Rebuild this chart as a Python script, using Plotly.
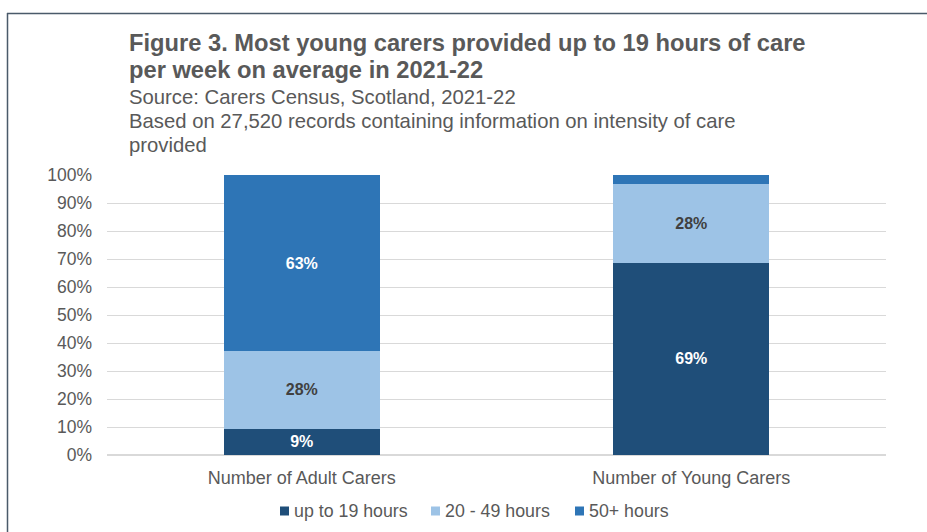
import plotly.graph_objects as go

categories = ["Number of Adult Carers", "Number of Young Carers"]
series_names = ["up to 19 hours", "20 - 49 hours", "50+ hours"]
up_to_19 = [9.4, 68.7]
h20_49 = [27.7, 28.0]
h50_plus = [62.9, 3.3]
labels_up_to_19 = ["9%", "69%"]
labels_20_49 = ["28%", "28%"]
labels_50_plus = ["63%", ""]
y_ticks = [0, 10, 20, 30, 40, 50, 60, 70, 80, 90, 100]
y_tick_labels = ["0%", "10%", "20%", "30%", "40%", "50%", "60%", "70%", "80%", "90%", "100%"]

colors = ["#1F4E79", "#9DC3E6", "#2E75B6"]
text_colors = ["white", "#404040", "white"]

W, H = 927, 532
ML, MR, MT, MB = 107, 41, 175, 77
PW, PH = W - ML - MR, H - MT - MB
FONT = "Liberation Sans, Arial, sans-serif"

def px2x(px):
    return (px - ML) / PW

def py2y(py):
    return (H - MB - py) / PH

fig = go.Figure()
for name, vals, labs, c, tc in zip(series_names, [up_to_19, h20_49, h50_plus],
                                   [labels_up_to_19, labels_20_49, labels_50_plus],
                                   colors, text_colors):
    fig.add_trace(go.Bar(
        x=categories, y=vals, name=name, marker=dict(color=c, line=dict(width=0)),
        text=labs, textposition="inside", insidetextanchor="middle",
        textfont=dict(family=FONT, size=16, color=tc, weight="bold"),
        textangle=0, hoverinfo="skip", showlegend=False,
    ))

title_lines = [
    ("Figure 3. Most young carers provided up to 19 hours of care", 43.5, 23.7, "bold"),
    ("per week on average in 2021-22", 70, 23.7, "bold"),
    ("Source: Carers Census, Scotland, 2021-22", 96.5, 20.3, "normal"),
    ("Based on 27,520 records containing information on intensity of care", 120.5, 20.3, "normal"),
    ("provided", 144.5, 20.3, "normal"),
]
annotations = []
for txt, py, sz, wt in title_lines:
    annotations.append(dict(
        text=txt, xref="paper", yref="paper", x=px2x(127), y=py2y(py),
        xanchor="left", yanchor="middle", showarrow=False,
        font=dict(family=FONT, size=sz, color="#595959", weight=wt),
    ))

shapes = [dict(type="line", xref="paper", yref="paper",
               x0=px2x(7), x1=px2x(927), y0=py2y(13.5), y1=py2y(13.5),
               line=dict(color="#4A5A6A", width=1.5)),
          dict(type="line", xref="paper", yref="paper",
               x0=px2x(7.5), x1=px2x(7.5), y0=py2y(13), y1=py2y(532),
               line=dict(color="#4A5A6A", width=1.5))]

# custom legend (square swatch + text)
legend_square_x = [280, 431, 575]
legend_y = 511
for name, c, sx in zip(series_names, colors, legend_square_x):
    shapes.append(dict(type="rect", xref="paper", yref="paper",
                       x0=px2x(sx), x1=px2x(sx + 9), y0=py2y(legend_y - 4.5), y1=py2y(legend_y + 4.5),
                       fillcolor=c, line=dict(width=0)))
    annotations.append(dict(
        text=name, xref="paper", yref="paper", x=px2x(sx + 12), y=py2y(legend_y),
        xanchor="left", yanchor="middle", showarrow=False,
        font=dict(family=FONT, size=17.8, color="#595959"),
    ))

fig.update_layout(
    width=W, height=H, barmode="stack", bargap=0.6,
    margin=dict(l=ML, r=MR, t=MT, b=MB, autoexpand=False),
    paper_bgcolor="white", plot_bgcolor="white",
    font=dict(family=FONT, color="#595959", size=16),
    showlegend=False,
    annotations=annotations, shapes=shapes,
)
fig.update_yaxes(range=[0, 100], tickmode="array", tickvals=y_ticks, ticktext=y_tick_labels,
                 showgrid=True, gridcolor="#D9D9D9", gridwidth=1, zeroline=True,
                 zerolinecolor="#D9D9D9", showline=False,
                 tickfont=dict(family=FONT, size=17.5, color="#595959"),
                 ticklabelstandoff=14)
fig.update_xaxes(showline=False, tickfont=dict(family=FONT, size=18, color="#595959"),
                 ticklabelstandoff=10)

fig.write_html("out.html", config={"displayModeBar": False})
